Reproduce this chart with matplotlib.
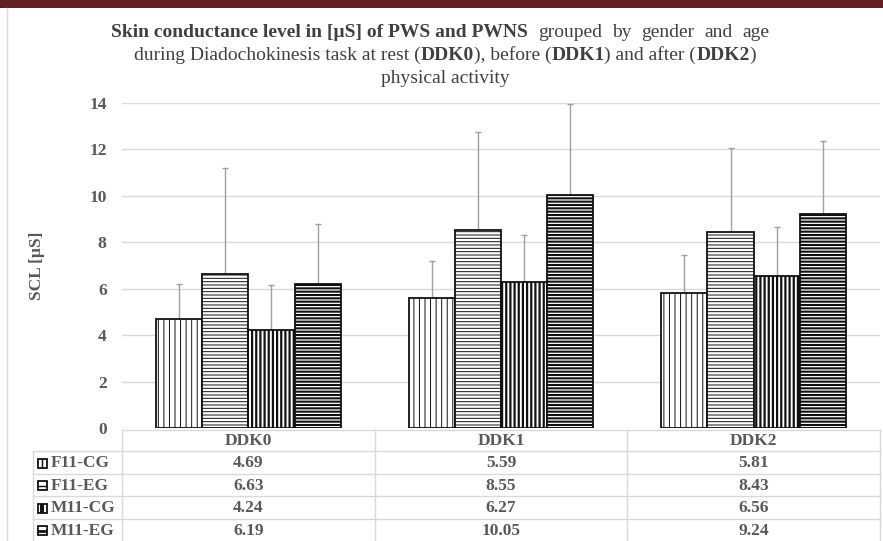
import matplotlib
matplotlib.use('Agg')
import matplotlib.pyplot as plt
import numpy as np
from matplotlib.patches import Rectangle

# ---------------- data ----------------
categories = ['DDK0', 'DDK1', 'DDK2']
series_names = ['F11-CG', 'F11-EG', 'M11-CG', 'M11-EG']
f11_cg = [4.69, 5.59, 5.81]
f11_eg = [6.63, 8.55, 8.43]
m11_cg = [4.24, 6.27, 6.56]
m11_eg = [6.19, 10.05, 9.24]
f11_cg_sd = [1.50, 1.59, 1.63]
f11_eg_sd = [4.59, 4.20, 3.65]
m11_cg_sd = [1.92, 2.04, 2.12]
m11_eg_sd = [2.59, 3.90, 3.12]
yticks = [0, 2, 4, 6, 8, 10, 12, 14]
ylabel = 'SCL [µS]'

values = [f11_cg, f11_eg, m11_cg, m11_eg]
sds = [f11_cg_sd, f11_eg_sd, m11_cg_sd, m11_eg_sd]
hatches = ['|||', '-----', '||||', '-----']
hatch_lw = [0.7, 0.7, 1.6, 1.5]

SERIF = 'Liberation Serif'
GRAY = '#595959'
W, H = 883, 541

fig = plt.figure(figsize=(W / 100, H / 100), dpi=100)
fig.patch.set_facecolor('white')

# main axes (pixel-based placement)
ax_l, ax_r, ax_t, ax_b = 122, 880, 103, 428
ax = fig.add_axes([ax_l / W, 1 - ax_b / H, (ax_r - ax_l) / W, (ax_b - ax_t) / H])
ax.set_xlim(-0.5, 2.5)
ax.set_ylim(0, 14)
ax.set_yticks(yticks)
ax.set_yticklabels([str(t) for t in yticks], fontfamily=SERIF, fontweight='bold',
                   fontsize=12.5, color=GRAY)
ax.tick_params(axis='y', length=0, pad=11)
ax.set_xticks([])
for sp in ax.spines.values():
    sp.set_visible(False)
ax.yaxis.grid(True, color='#d9d9d9', linewidth=1.0)
ax.set_axisbelow(True)

x = np.arange(len(categories))
bw = 0.183
for i, (vals, sd) in enumerate(zip(values, sds)):
    pos = x + (i - 1.5) * bw
    bars = ax.bar(pos, vals, width=bw, color='white', edgecolor='#111111',
                  linewidth=1.3, hatch=hatches[i], zorder=3)
    for b in bars:
        try:
            b.set_hatch_linewidth(hatch_lw[i])
        except Exception:
            pass
    ax.errorbar(pos, vals, yerr=[np.zeros(len(sd)), sd], fmt='none',
                ecolor='#a0a0a0', elinewidth=1.0, capsize=2.5, capthick=1.0, zorder=2)

fig.text(37 / W, 1 - 266 / H, ylabel, rotation=90, ha='center', va='center',
         fontfamily=SERIF, fontweight='bold', fontsize=12.5, color=GRAY)

# overlay in pixel coordinates for decoration, title and table
ov = fig.add_axes([0, 0, 1, 1], zorder=-1)
ov.set_xlim(0, W)
ov.set_ylim(H, 0)
ov.axis('off')

ov.add_patch(Rectangle((0, 0), W, 7.5, facecolor='#622020', edgecolor='none'))
ov.plot([7, 7], [8, H], color='#d9d9d9', lw=1.0)

# ---- title with mixed weights ----
renderer = fig.canvas.get_renderer()
TSIZE = 14
TCOL = '#404040'


def text_w(s, bold):
    t = ov.text(0, 0, s, fontfamily=SERIF, fontsize=TSIZE,
                fontweight='bold' if bold else 'normal')
    w = t.get_window_extent(renderer).width
    t.remove()
    return w


space_w = text_w('a a', False) - text_w('aa', False)


def rich_line(y, segs, cx=445):
    # segs: (text, bold, gap_factor before)
    widths = [text_w(s, b) for s, b, g in segs]
    total = sum(widths) + sum(space_w * g for s, b, g in segs)
    xx = cx - total / 2
    for (s, b, g), w in zip(segs, widths):
        xx += space_w * g
        ov.text(xx, y, s, fontfamily=SERIF, fontsize=TSIZE,
                fontweight='bold' if b else 'normal', color=TCOL,
                ha='left', va='baseline')
        xx += w


line1 = [('Skin conductance level in [µS] of PWS and PWNS', True, 0)]
for k, wd in enumerate('grouped by gender and age'.split()):
    line1.append((wd, False, 2.3 if k == 0 else 2.0))
rich_line(37, line1, cx=440)
rich_line(60, [('during Diadochokinesis task at rest (', False, 0),
               ('DDK0', True, 0), ('), before (', False, 0),
               ('DDK1', True, 0), (') and after (', False, 0),
               ('DDK2', True, 0), (')', False, 0)])
rich_line(83, [('physical activity', False, 0)])

# ---- data table ----
LC = '#d9d9d9'
col_edges = [ax_l + k * (ax_r - ax_l) / 3 for k in range(4)]
row_edges = [429.5, 451, 473.5, 496, 518.5, 541]
tab_left = 33
ov.plot([col_edges[0], col_edges[-1]], [row_edges[0]] * 2, color=LC, lw=1)
for r in row_edges[1:-1]:
    ov.plot([tab_left, col_edges[-1]], [r, r], color=LC, lw=1)
for c in col_edges:
    ov.plot([c, c], [row_edges[0], H], color=LC, lw=1)
ov.plot([tab_left, tab_left], [row_edges[1], H], color=LC, lw=1)

for j, cat in enumerate(categories):
    cx = (col_edges[j] + col_edges[j + 1]) / 2
    ov.text(cx, (row_edges[0] + row_edges[1]) / 2 + 1, cat, ha='center', va='center',
            fontfamily=SERIF, fontweight='bold', fontsize=12.5, color=GRAY)

# legend keys: small boxes with inner strokes
key_lines = [('v', [0.5], 1.0), ('h', [0.5], 1.0), ('v', [0.38, 0.62], 1.4), ('h', [0.5], 2.0)]
for i, name in enumerate(series_names):
    ry = (row_edges[i + 1] + row_edges[i + 2]) / 2 + 1
    kx, ky, ks = 37.5, ry - 4.5, 9
    ov.add_patch(Rectangle((kx, ky), ks, ks, facecolor='white', edgecolor='#111111',
                           linewidth=1.3))
    orient, fr, lw = key_lines[i]
    for f in fr:
        if orient == 'v':
            ov.plot([kx + f * ks] * 2, [ky, ky + ks], color='#111111', lw=lw,
                    solid_capstyle='butt')
        else:
            ov.plot([kx, kx + ks], [ky + f * ks] * 2, color='#111111', lw=lw,
                    solid_capstyle='butt')
    ov.text(51, ry, name, ha='left', va='center', fontfamily=SERIF,
            fontweight='bold', fontsize=12.5, color=GRAY)
    for j in range(len(categories)):
        cx = (col_edges[j] + col_edges[j + 1]) / 2
        ov.text(cx, ry, f'{values[i][j]:.2f}', ha='center', va='center',
                fontfamily=SERIF, fontweight='bold', fontsize=12.5, color=GRAY)

fig.savefig('out.png', dpi=100)
